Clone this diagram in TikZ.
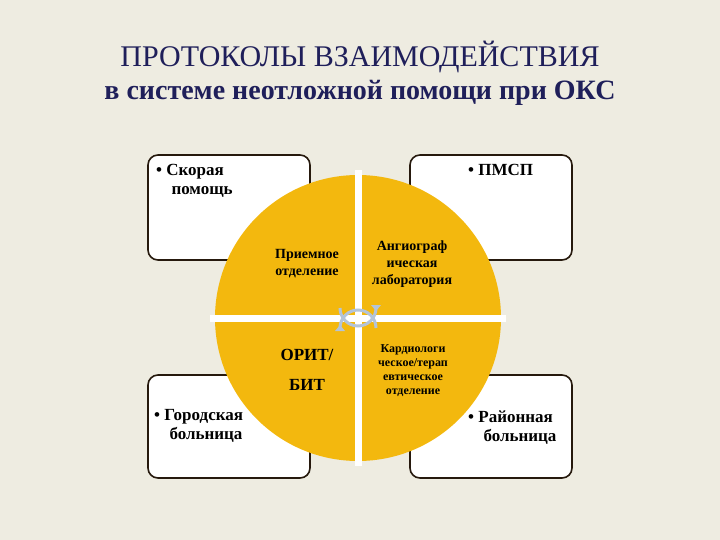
\documentclass[tikz,border=0pt]{standalone}
\usepackage{fontspec}
\setmainfont{Liberation Serif}
\begin{document}
\begin{tikzpicture}[x=1pt,y=-1pt,
  card/.style={draw=black!80!brown,line width=1.6pt,fill=white,rounded corners=10pt},
  lbl/.style={align=left,anchor=north west,inner sep=0pt},
  inlbl/.style={align=center,inner sep=0pt},
  arr/.style={draw=arrowblue,line width=3pt}]
\definecolor{bg}{HTML}{EEECE1}
\definecolor{gold}{HTML}{F3B80E}
\definecolor{navy}{HTML}{1F1F5A}
\definecolor{arrowblue}{HTML}{B4C4D8}
\fill[bg] (0,0) rectangle (720,540);
\useasboundingbox (0,0) rectangle (720,540);
\node[font=\fontsize{30}{34}\selectfont,text=navy] (t1) at (360,57) {ПРОТОКОЛЫ ВЗАИМОДЕЙСТВИЯ};
\node[font=\bfseries\fontsize{28}{32}\selectfont,text=navy] (t2) at (360,93) {в системе неотложной помощи при ОКС};
\path[card] (148,155) rectangle (310,260);
\path[card] (410,155) rectangle (572,260);
\path[card] (148,375) rectangle (310,478);
\path[card] (410,375) rectangle (572,478);
\node[lbl,font=\bfseries\fontsize{17}{19}\selectfont] (a) at (156,164) {• Скорая\\\hspace*{0.9em}помощь};
\node[lbl,font=\bfseries\fontsize{17}{19}\selectfont] (b) at (468,164) {• ПМСП};
\node[lbl,font=\bfseries\fontsize{17}{19}\selectfont] (c) at (154,409) {• Городская\\\hspace*{0.9em}больница};
\node[lbl,font=\bfseries\fontsize{17}{19}\selectfont] (d) at (468,411) {• Районная\\\hspace*{0.9em}больница};
\coordinate (o) at (358,318);
\fill[gold] (o) circle (143);
\fill[white] (354.5,170) rectangle (361.5,466);
\fill[white] (210,314.5) rectangle (506,321.5);
\draw[arr] (340,308) arc (180:0:18);
\draw[arr] (376,328) arc (0:-180:18);
\fill[arrowblue] (376,311) -- (371,305) -- (381,305) -- cycle;
\fill[arrowblue] (340,325) -- (335,331) -- (345,331) -- cycle;
\node[inlbl,font=\bfseries\fontsize{14}{17}\selectfont] (p1) at (307,264) {Приемное\\отделение};
\node[inlbl,font=\bfseries\fontsize{14}{17}\selectfont] (p2) at (412,264) {Ангиограф\\ическая\\лаборатория};
\node[inlbl,font=\bfseries\fontsize{17}{30}\selectfont] (p3) at (307,370) {ОРИТ/\\БИТ};
\node[inlbl,font=\bfseries\fontsize{12}{14}\selectfont] (p4) at (413,371) {Кардиологи\\ческое/терап\\евтическое\\отделение};
\end{tikzpicture}
\end{document}
